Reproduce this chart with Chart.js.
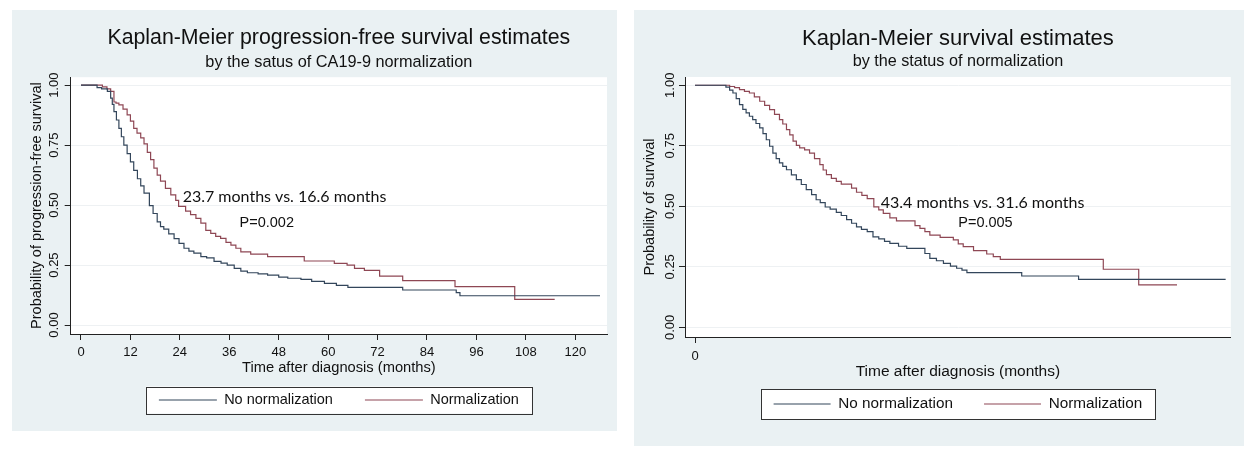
<!DOCTYPE html>
<html>
<head>
<meta charset="utf-8">
<title>Kaplan-Meier estimates by CA19-9 normalization</title>
<script src="https://cdn.jsdelivr.net/npm/chart.js@4.4.1/dist/chart.umd.min.js"></script>
<style>
  html, body { margin: 0; padding: 0; background: #fff; }
  body { width: 1248px; height: 450px; position: relative; overflow: hidden; }
  .panel { position: absolute; background: #eaf1f3; }
  #panelPfs { left: 12px; top: 10px; width: 605px; height: 421px; }
  #panelOs { left: 634px; top: 10px; width: 610px; height: 436px; }
  canvas { position: absolute; top: 0; }
  #pfsChart { left: 0; }
  #osChart { left: 624px; }
</style>
</head>
<body>
<div class="panel" id="panelPfs"></div>
<div class="panel" id="panelOs"></div>
<canvas id="pfsChart" width="624" height="450"></canvas>
<canvas id="osChart" width="624" height="450"></canvas>
<script>
// group names (legend order)
const groups = ['No normalization', 'Normalization'];

// progression-free survival: months and KM estimate after each step
const pfsTimeNoNorm = [0, 3.9, 5, 6.4, 7.2, 7.6, 8, 8.6, 9.2, 9.8, 10.4, 11.2, 12, 12.8, 13.7, 14.5, 15.3, 16.6, 17.5, 18.5,
  19.3, 20.1, 21.3, 22.6, 23.8, 25, 26.2, 27.4, 29.1, 30.5, 32.3, 34, 35.5, 37.2, 38.8, 40.4, 43, 45.3, 48, 50.2,
  53.4, 56, 59.1, 62, 64.8, 78.1, 91.1, 92, 126];
const pfsSurvNoNorm = [1, 0.99, 0.985, 0.974, 0.946, 0.92, 0.89, 0.855, 0.82, 0.785, 0.75, 0.715, 0.68, 0.645, 0.61, 0.58, 0.55, 0.498, 0.465, 0.43,
  0.41, 0.40, 0.38, 0.36, 0.34, 0.32, 0.308, 0.30, 0.285, 0.28, 0.265, 0.258, 0.25, 0.236, 0.225, 0.218, 0.213, 0.208, 0.2, 0.195,
  0.19, 0.182, 0.174, 0.165, 0.157, 0.146, 0.135, 0.122, 0.122];
const pfsTimeNorm = [0, 5.2, 6.3, 7.2, 8, 8.5, 9.2, 10.2, 11.2, 12, 12.8, 13.6, 14.5, 15.3, 16.1, 16.9, 17.7, 18.5, 19.3, 20.5,
  21.8, 23, 23.7, 25.4, 26.6, 27.9, 29.1, 30.3, 31.5, 32.7, 33.9, 35.2, 36.4, 37.6, 38.8, 41.2, 45.3, 54.2, 61.5, 64.6,
  66.4, 68.8, 72.5, 78.1, 90.8, 105.3, 115];
const pfsSurvNorm = [1, 0.993, 0.985, 0.974, 0.93, 0.925, 0.918, 0.9, 0.876, 0.85, 0.82, 0.8, 0.78, 0.755, 0.72, 0.69, 0.654, 0.625, 0.6, 0.57,
  0.543, 0.52, 0.495, 0.475, 0.46, 0.445, 0.425, 0.395, 0.382, 0.37, 0.361, 0.345, 0.333, 0.32, 0.305, 0.296, 0.285, 0.267, 0.257, 0.25,
  0.236, 0.228, 0.204, 0.185, 0.16, 0.107, 0.107];

// overall survival
const osTimeNoNorm = [0, 7.5, 8.4, 9.2, 10, 10.8, 11.6, 12.4, 13.2, 14, 14.8, 15.7, 16.5, 17.3, 18.1, 18.9, 19.7, 20.5, 21.3, 22.2,
  23.4, 24.6, 25.8, 27, 28.3, 29.4, 30.4, 31.6, 32.8, 34.3, 35.5, 36.8, 38, 39.2, 40.4, 41.8, 43.2, 44.6, 46, 47.3,
  49.4, 51.4, 55.8, 57, 58.6, 60.3, 62, 63.5, 64.8, 66, 79.3, 93.1, 128.8];
const osSurvNoNorm = [1, 0.992, 0.98, 0.968, 0.945, 0.92, 0.9, 0.886, 0.872, 0.858, 0.842, 0.824, 0.8, 0.775, 0.748, 0.72, 0.697, 0.679, 0.665, 0.651,
  0.63, 0.61, 0.59, 0.569, 0.548, 0.527, 0.515, 0.497, 0.488, 0.475, 0.462, 0.445, 0.43, 0.415, 0.405, 0.395, 0.374, 0.365, 0.355, 0.347,
  0.335, 0.326, 0.305, 0.285, 0.275, 0.264, 0.253, 0.244, 0.236, 0.226, 0.212, 0.198, 0.198];
const osTimeNorm = [0, 8.4, 9.6, 10.8, 12, 13.2, 14.4, 15.7, 16.9, 18.1, 19.3, 20.5, 21.3, 22.2, 23, 23.8, 24.6, 25.4, 26.6, 27.8,
  29, 30.3, 31.1, 31.9, 33.1, 34.3, 35.5, 38, 39.2, 40.5, 41.8, 43.4, 44.6, 45.7, 47.3, 48.9, 53.4, 54.6, 55.8, 57,
  59.5, 62.7, 63.9, 65.1, 67.6, 70.8, 72.4, 74.1, 99.1, 107.7, 117];
const osSurvNorm = [1, 0.995, 0.99, 0.982, 0.975, 0.968, 0.952, 0.934, 0.917, 0.899, 0.88, 0.858, 0.84, 0.817, 0.795, 0.769, 0.752, 0.741, 0.733, 0.72,
  0.697, 0.672, 0.65, 0.631, 0.615, 0.603, 0.592, 0.575, 0.558, 0.545, 0.532, 0.498, 0.485, 0.471, 0.452, 0.44, 0.42, 0.409, 0.395, 0.381,
  0.372, 0.361, 0.345, 0.333, 0.317, 0.303, 0.292, 0.281, 0.24, 0.175, 0.175];

// medians (normalization vs. no normalization) and log-rank p
const pfsMedians = [23.7, 16.6];
const pfsPValue = '0.002';
const osMedians = [43.4, 31.6];
const osPValue = '0.005';

// axis ticks
const pfsXTicks = [0, 12, 24, 36, 48, 60, 72, 84, 96, 108, 120];
const osXTicks = [0];
const yTicks = [0, 0.25, 0.5, 0.75, 1];

const lineColors = ['#33465b', '#8e4754'];

Chart.defaults.font.family = "'Liberation Sans', Arial, sans-serif";
Chart.defaults.color = '#111';

const toPoints = (ts, ss) => ts.map((t, i) => ({x: t, y: ss[i]}));

// white plot region, boxed legend and the median / p-value notes
const kmFrame = {
  id: 'kmFrame',
  beforeDraw(chart, args, opts) {
    const {ctx, chartArea: a, legend} = chart;
    ctx.save();
    ctx.fillStyle = '#fff';
    ctx.fillRect(a.left, a.top, a.right - a.left, a.bottom - a.top);
    const cx = (legend.left + legend.right) / 2;
    const cy = legend.top + opts.legendDy;
    ctx.fillRect(cx - opts.legendW / 2, cy - opts.legendH / 2, opts.legendW, opts.legendH);
    ctx.strokeStyle = '#333';
    ctx.lineWidth = 1;
    ctx.strokeRect(Math.round(cx - opts.legendW / 2) + 0.5, Math.round(cy - opts.legendH / 2) + 0.5,
      Math.round(opts.legendW), Math.round(opts.legendH));
    ctx.restore();
  },
  afterDatasetsDraw(chart, args, opts) {
    const {ctx, scales: {x, y}} = chart;
    ctx.save();
    ctx.fillStyle = '#111';
    ctx.textAlign = 'center';
    ctx.textBaseline = 'middle';
    for (const n of opts.notes) {
      ctx.font = n.font;
      ctx.fillText(n.text, x.getPixelForValue(n.t), y.getPixelForValue(n.s));
    }
    ctx.restore();
  }
};

function buildChart(id, c) {
  return new Chart(document.getElementById(id), {
    type: 'line',
    data: {
      datasets: [
        {label: groups[0], data: toPoints(c.timeNoNorm, c.survNoNorm), borderColor: lineColors[0]},
        {label: groups[1], data: toPoints(c.timeNorm, c.survNorm), borderColor: lineColors[1]}
      ].map(d => Object.assign(d, {stepped: true, borderWidth: 1.2, pointRadius: 0, fill: false}))
    },
    options: {
      responsive: false,
      animation: false,
      devicePixelRatio: 1,
      layout: {padding: {left: 12, top: 10, right: c.padRight, bottom: c.padBottom}},
      plugins: {
        title: {
          display: true, text: c.title, fullSize: false, color: '#111',
          font: {size: c.titleSize, weight: 'normal'}, padding: c.titlePad
        },
        subtitle: {
          display: true, text: c.subtitle, fullSize: false, color: '#111',
          font: {size: c.subSize, weight: 'normal'}, padding: c.subPad
        },
        legend: {
          position: 'bottom', fullSize: false,
          labels: {
            usePointStyle: true, pointStyle: 'line', pointStyleWidth: c.keyWidth,
            padding: c.legendPad, color: '#111', font: {size: c.legendSize}
          }
        },
        tooltip: {enabled: false},
        kmFrame: {
          legendW: c.legendW, legendH: c.legendH, legendDy: c.legendPad + c.legendSize / 2,
          notes: c.notes
        }
      },
      scales: {
        x: {
          type: 'linear', min: c.xMin, max: c.xMax,
          afterBuildTicks: axis => { axis.ticks = c.xTicks.map(v => ({value: v})); },
          afterFit: axis => { axis.height = c.xHeight; },
          grid: {drawOnChartArea: false, tickLength: 6, tickColor: '#222'},
          border: {color: '#222'},
          ticks: {padding: c.xTickPad, font: {size: 13}, color: '#111', maxRotation: 0, autoSkip: false},
          title: {
            display: true, text: 'Time after diagnosis (months)', color: '#111',
            font: {size: c.xTitleSize}, padding: {top: 0, bottom: c.xTitlePad}
          }
        },
        y: {
          type: 'linear', min: c.yMin, max: c.yMax,
          afterBuildTicks: axis => { axis.ticks = yTicks.map(v => ({value: v})); },
          afterFit: axis => { axis.width = c.yWidth; },
          grid: {color: '#eef1f3', tickLength: 6, tickColor: '#222'},
          border: {color: '#222'},
          ticks: {
            minRotation: 90, maxRotation: 90, crossAlign: 'center', padding: c.yTickPad,
            font: {size: 13}, color: '#111', callback: v => v.toFixed(2)
          },
          title: {
            display: true, text: c.yTitle, color: '#111',
            font: {size: 14.5}, padding: {top: c.yTitlePad, bottom: 0}
          }
        }
      }
    },
    plugins: [kmFrame]
  });
}

buildChart('pfsChart', {
  timeNoNorm: pfsTimeNoNorm, survNoNorm: pfsSurvNoNorm,
  timeNorm: pfsTimeNorm, survNorm: pfsSurvNorm,
  title: 'Kaplan-Meier progression-free survival estimates',
  subtitle: 'by the satus of CA19-9 normalization',
  yTitle: 'Probability of progression-free survival',
  titleSize: 21.3, titlePad: {top: 15.7, bottom: 0},
  subSize: 16.3, subPad: {top: 1.1, bottom: 5.3},
  padRight: 17, padBottom: 32.75,
  xMin: -2.5, xMax: 127.7, xTicks: pfsXTicks, xHeight: 26.75, xTickPad: 4.2,
  xTitleSize: 14.7, xTitlePad: -16.07,
  yMin: -0.0375, yMax: 1.0333, yWidth: 58.7, yTickPad: -1.95, yTitlePad: 16.3,
  keyWidth: 58, legendPad: 32, legendSize: 14.5, legendW: 386, legendH: 27,
  notes: [
    {text: pfsMedians[0] + ' months vs. ' + pfsMedians[1] + ' months', t: 49.4, s: 0.535, font: '16px Lato'},
    {text: 'P=' + pfsPValue, t: 45.1, s: 0.426, font: "14.5px 'Liberation Sans'"}
  ]
});

buildChart('osChart', {
  timeNoNorm: osTimeNoNorm, survNoNorm: osSurvNoNorm,
  timeNorm: osTimeNorm, survNorm: osSurvNorm,
  title: 'Kaplan-Meier survival estimates',
  subtitle: 'by the status of normalization',
  yTitle: 'Probability of survival',
  titleSize: 22, titlePad: {top: 15.3, bottom: 0},
  subSize: 16.2, subPad: {top: 0.6, bottom: 5.3},
  padRight: 17.2, padBottom: 28.35,
  xMin: -2.43, xMax: 130.05, xTicks: osXTicks, xHeight: 28.35, xTickPad: 5.2,
  xTitleSize: 15.5, xTitlePad: -15.75,
  yMin: -0.04, yMax: 1.034, yWidth: 49, yTickPad: -3.6, yTitlePad: 5.3,
  keyWidth: 57, legendPad: 31, legendSize: 15.3, legendW: 394, legendH: 30,
  notes: [
    {text: osMedians[0] + ' months vs. ' + osMedians[1] + ' months', t: 69.8, s: 0.515, font: '16px Lato'},
    {text: 'P=' + osPValue, t: 70.5, s: 0.43, font: "14.5px 'Liberation Sans'"}
  ]
});
</script>
</body>
</html>
